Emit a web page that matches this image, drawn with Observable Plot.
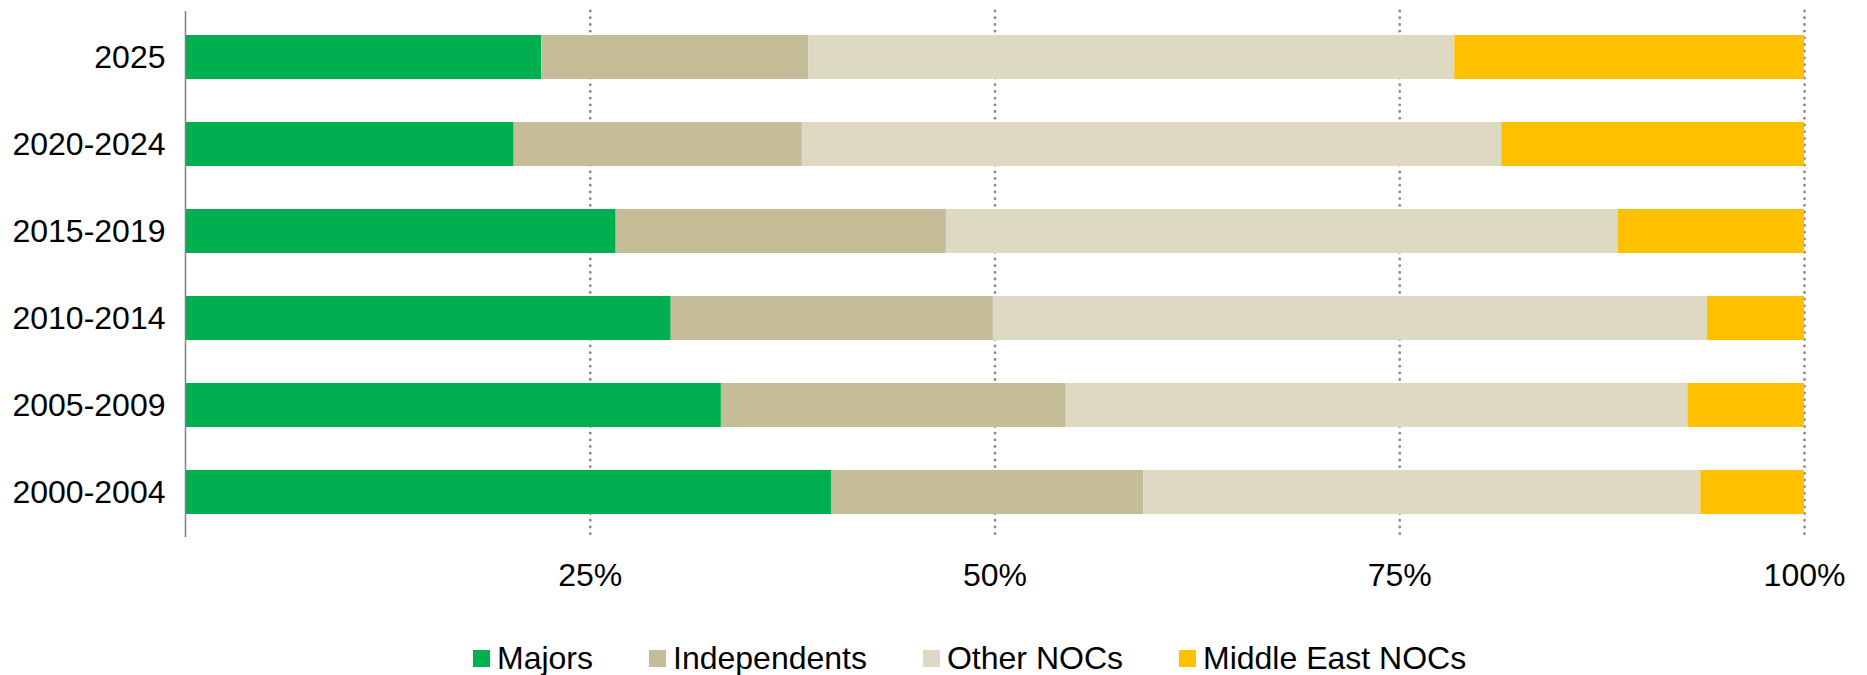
<!DOCTYPE html>
<html>
<head>
<meta charset="utf-8">
<script src="https://cdn.jsdelivr.net/npm/d3@7"></script>
<script src="https://cdn.jsdelivr.net/npm/@observablehq/plot@0.6"></script>
<style>
  html, body { margin: 0; padding: 0; background: #fff; }
  #chart { width: 1867px; font-family: "Liberation Sans", Arial, sans-serif; }
  #legend { display: flex; align-items: center; height: 34px; padding-top: 31px; padding-left: 473px; font-size: 32px; line-height: 34px; color: #000; }
  .item { display: flex; align-items: center; margin-right: 56px; }
  .sw { width: 17px; height: 17px; margin-right: 7px; display: inline-block; }
</style>
</head>
<body>
<div id="chart"></div>
<script>
const periods = ["2025", "2020-2024", "2015-2019", "2010-2014", "2005-2009", "2000-2004"];
const series = ["Majors", "Independents", "Other NOCs", "Middle East NOCs"];
const majors = [22.0, 20.3, 26.6, 30.0, 33.1, 39.9];
const independents = [16.5, 17.8, 20.4, 19.9, 21.3, 19.3];
const otherNOCs = [39.9, 43.2, 41.5, 44.1, 38.4, 34.4];
const middleEastNOCs = [21.6, 18.7, 11.5, 6.0, 7.2, 6.4];
const colors = ["#00B050", "#C4BD97", "#DDD9C3", "#FFC000"];
const xTicks = [25, 50, 75, 100];

const seriesValues = [majors, independents, otherNOCs, middleEastNOCs];
const rows = series.flatMap((s, j) => periods.map((p, i) => ({period: p, series: s, value: seriesValues[j][i]})));

const plot = Plot.plot({
  width: 1867,
  height: 610,
  marginTop: 11,
  marginBottom: 73,
  marginLeft: 185,
  marginRight: 63,
  style: "font-family: 'Liberation Sans', Arial, sans-serif; font-size: 32px; color: #000; background: #fff; overflow: visible;",
  x: {domain: [0, 100]},
  y: {domain: periods, paddingInner: 0.5, paddingOuter: 0.25},
  color: {domain: series, range: colors},
  marks: [
    Plot.gridX(xTicks, {stroke: "#8a8a8a", strokeOpacity: 1, strokeWidth: 2.8, strokeDasharray: "0.1 6.6", strokeLinecap: "round"}),
    Plot.barX(rows, Plot.stackX({y: "period", x: "value", fill: "series", order: series})),
    Plot.axisX({ticks: xTicks, tickFormat: d => d + "%", tickSize: 0, tickPadding: 26, label: null, fill: "#000"}),
    Plot.axisY({tickSize: 0, tickPadding: 20, label: null, fill: "#000"}),
    Plot.ruleX([0], {stroke: "#808080", strokeWidth: 1.5})
  ]
});
document.getElementById("chart").appendChild(plot);

const legend = document.createElement("div");
legend.id = "legend";
series.forEach((s, i) => {
  const item = document.createElement("span");
  item.className = "item";
  const sw = document.createElement("span");
  sw.className = "sw";
  sw.style.background = colors[i];
  item.appendChild(sw);
  item.appendChild(document.createTextNode(s));
  legend.appendChild(item);
});
document.getElementById("chart").appendChild(legend);
</script>
</body>
</html>
